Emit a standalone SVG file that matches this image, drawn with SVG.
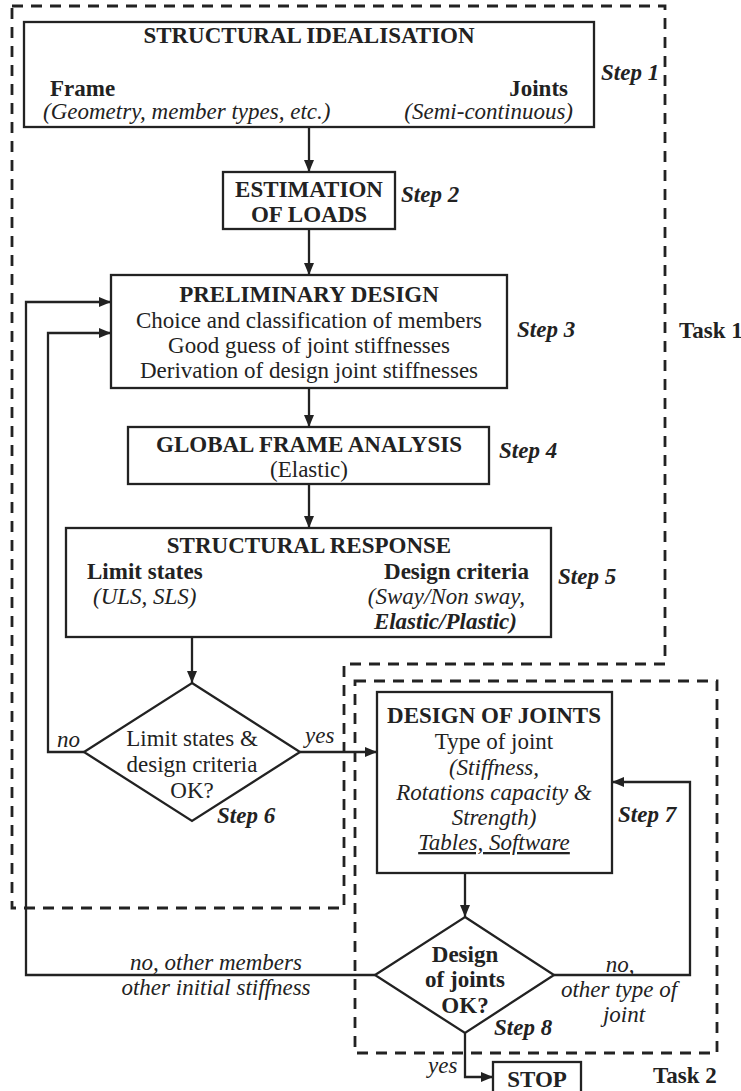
<svg xmlns="http://www.w3.org/2000/svg" width="741" height="1091" viewBox="0 0 741 1091">
  <style>
    text { font-family: "Liberation Serif", "Times New Roman", serif; font-size: 23px; fill: #222; }
    .b { font-weight: bold; }
    .i { font-style: italic; }
    .bi { font-weight: bold; font-style: italic; }
    .c { text-anchor: middle; }
    .e { text-anchor: end; }
    .box { fill: #fff; stroke: #222; stroke-width: 2.3; }
    .task { fill: none; stroke: #222; stroke-width: 2.8; stroke-dasharray: 11 8; }
    .link { fill: none; stroke: #222; stroke-width: 2.3; }
  </style>
  <defs>
    <marker id="arrow" viewBox="0 0 12 10" refX="12" refY="5" markerWidth="12" markerHeight="10" markerUnits="userSpaceOnUse" orient="auto">
      <path d="M0,0 L12,5 L0,10 Z" fill="#222"/>
    </marker>
  </defs>
  <rect width="741" height="1091" fill="#fff"/>

  <!-- task boundaries -->
  <g id="task-areas">
    <path class="task" d="M12,6 H665 V664 H344 V908 H12 Z"/>
    <rect class="task" x="355" y="681" width="362" height="372"/>
    <text class="b" x="679" y="338">Task 1</text>
    <text class="b" x="653" y="1083">Task 2</text>
  </g>

  <!-- connectors -->
  <g id="connectors">
    <path class="link" d="M309,127 V172" marker-end="url(#arrow)"/>
    <path class="link" d="M309,229 V275" marker-end="url(#arrow)"/>
    <path class="link" d="M309,388 V427" marker-end="url(#arrow)"/>
    <path class="link" d="M309,484 V528" marker-end="url(#arrow)"/>
    <path class="link" d="M192,637 V683" marker-end="url(#arrow)"/>
    <path class="link" d="M300,752 H377" marker-end="url(#arrow)"/>
    <path class="link" d="M84,752 H48 V333 H111" marker-end="url(#arrow)"/>
    <path class="link" d="M465,873 V917" marker-end="url(#arrow)"/>
    <path class="link" d="M375,975 H26 V302 H111" marker-end="url(#arrow)"/>
    <path class="link" d="M554,975 H690 V782 H612" marker-end="url(#arrow)"/>
    <path class="link" d="M465,1033 V1077 H493" marker-end="url(#arrow)"/>
    <text class="i" x="57" y="747">no</text>
    <text class="i" x="305" y="743">yes</text>
    <text class="i c" x="216" y="970">no, other members</text>
    <text class="i c" x="216" y="995">other initial stiffness</text>
    <text class="i c" x="620" y="972">no,</text>
    <text class="i c" x="619" y="997">other type of</text>
    <text class="i c" x="624" y="1022">joint</text>
    <text class="i" x="428" y="1073">yes</text>
  </g>

  <!-- step 1 -->
  <g id="structural-idealisation">
    <rect class="box" x="24" y="22" width="570" height="105"/>
    <text class="b c" x="309" y="43">STRUCTURAL IDEALISATION</text>
    <text class="b" x="50" y="96">Frame</text>
    <text class="b e" x="568" y="96">Joints</text>
    <text class="i" x="43" y="119">(Geometry, member types, etc.)</text>
    <text class="i e" x="573" y="119">(Semi-continuous)</text>
    <text class="bi" x="601" y="80">Step 1</text>
  </g>

  <!-- step 2 -->
  <g id="estimation-of-loads">
    <rect class="box" x="223" y="172" width="172" height="57"/>
    <text class="b c" x="309" y="197">ESTIMATION</text>
    <text class="b c" x="309" y="222">OF LOADS</text>
    <text class="bi" x="401" y="202">Step 2</text>
  </g>

  <!-- step 3 -->
  <g id="preliminary-design">
    <rect class="box" x="111" y="275" width="396" height="113"/>
    <text class="b c" x="309" y="302">PRELIMINARY DESIGN</text>
    <text class="c" x="309" y="328">Choice and classification of members</text>
    <text class="c" x="309" y="353">Good guess of joint stiffnesses</text>
    <text class="c" x="309" y="378">Derivation of design joint stiffnesses</text>
    <text class="bi" x="517" y="337">Step 3</text>
  </g>

  <!-- step 4 -->
  <g id="global-frame-analysis">
    <rect class="box" x="128" y="427" width="361" height="57"/>
    <text class="b c" x="309" y="452">GLOBAL FRAME ANALYSIS</text>
    <text class="c" x="309" y="477">(Elastic)</text>
    <text class="bi" x="499" y="458">Step 4</text>
  </g>

  <!-- step 5 -->
  <g id="structural-response">
    <rect class="box" x="66" y="528" width="485" height="109"/>
    <text class="b c" x="309" y="553">STRUCTURAL RESPONSE</text>
    <text class="b" x="87" y="579">Limit states</text>
    <text class="i" x="93" y="604">(ULS, SLS)</text>
    <text class="b e" x="529" y="579">Design criteria</text>
    <text class="i e" x="525" y="604">(Sway/Non sway,</text>
    <text class="bi e" x="517" y="629">Elastic/Plastic)</text>
    <text class="bi" x="558" y="584">Step 5</text>
  </g>

  <!-- step 6 -->
  <g id="check-limit-states">
    <polygon class="box" points="192,683 300,752 192,821 84,752"/>
    <text class="c" x="192" y="746">Limit states &amp;</text>
    <text class="c" x="192" y="772">design criteria</text>
    <text class="c" x="192" y="798">OK?</text>
    <text class="bi" x="217" y="823">Step 6</text>
  </g>

  <!-- step 7 -->
  <g id="design-of-joints">
    <rect class="box" x="377" y="692" width="235" height="181"/>
    <text class="b c" x="494" y="723">DESIGN OF JOINTS</text>
    <text class="c" x="494" y="749">Type of joint</text>
    <text class="i c" x="494" y="775">(Stiffness,</text>
    <text class="i c" x="494" y="800">Rotations capacity &amp;</text>
    <text class="i c" x="494" y="825">Strength)</text>
    <text class="i c" x="494" y="850" text-decoration="underline">Tables, Software</text>
    <text class="bi" x="618" y="822">Step 7</text>
  </g>

  <!-- step 8 -->
  <g id="check-joints">
    <polygon class="box" points="465,917 554,975 465,1033 375,975"/>
    <text class="b c" x="465" y="962">Design</text>
    <text class="b c" x="465" y="987">of joints</text>
    <text class="b c" x="465" y="1013">OK?</text>
    <text class="bi" x="494" y="1035">Step 8</text>
  </g>

  <!-- end -->
  <g id="stop">
    <rect class="box" x="493" y="1062" width="88" height="40"/>
    <text class="b c" x="537" y="1087">STOP</text>
  </g>
</svg>
